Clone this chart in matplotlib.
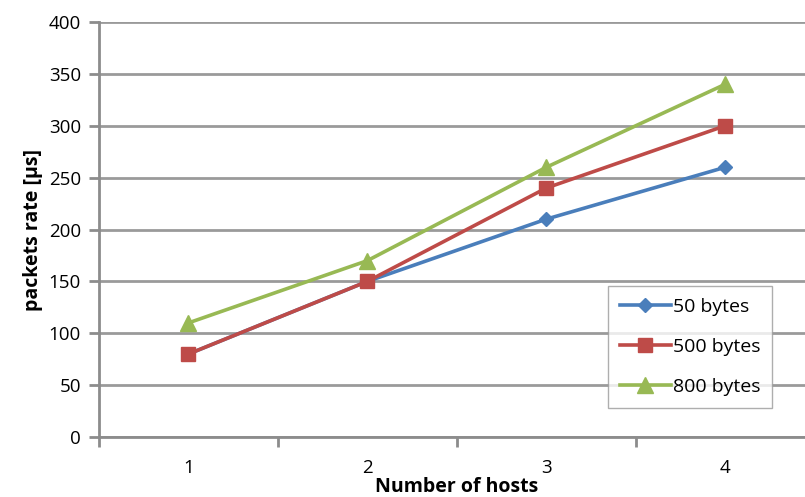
import matplotlib.pyplot as plt

# data
hosts = ["1", "2", "3", "4"]
bytes_50 = [80, 150, 210, 260]
bytes_500 = [80, 150, 240, 300]
bytes_800 = [110, 170, 260, 340]

series = [
    ("50 bytes", bytes_50, "#4A7EBB", "D", 7),
    ("500 bytes", bytes_500, "#BE4B48", "s", 10),
    ("800 bytes", bytes_800, "#98B954", "^", 11),
]

plt.rcParams["font.family"] = ["Open Sans", "DejaVu Sans"]

fig = plt.figure(figsize=(8.05, 4.97), dpi=100)
ax = fig.add_axes([0.123, 0.1207, 0.889, 0.835])

x = list(range(len(hosts)))
for name, vals, color, marker, ms in series:
    ax.plot(x, vals, color=color, lw=2.6, marker=marker, markersize=ms,
            label=name, zorder=3)

ax.set_xlim(-0.5, 3.5)
ax.set_ylim(0, 400)
ax.set_yticks(range(0, 401, 50))
ax.yaxis.grid(True, color="#9a9a9a", lw=2)
ax.set_axisbelow(True)

ax.set_xticks(x)
ax.set_xticklabels(hosts, fontsize=13.5)
ax.set_xticks([i - 0.5 for i in range(len(hosts) + 1)], minor=True)
ax.tick_params(axis="x", which="major", length=0, pad=16)
ax.tick_params(axis="x", which="minor", length=7, width=2, color="#8c8c8c",
               direction="out")
ax.tick_params(axis="y", length=7, width=2, color="#8c8c8c", labelsize=13.5,
               pad=6)

for side in ["top", "right"]:
    ax.spines[side].set_visible(False)
for side in ["left", "bottom"]:
    ax.spines[side].set_color("#8c8c8c")
    ax.spines[side].set_linewidth(2)

ax.set_xlabel("Number of hosts", fontsize=14, fontweight="bold", labelpad=0)
ax.set_ylabel("packets rate [µs]", fontsize=14, fontweight="bold", labelpad=4)

leg = ax.legend(loc="lower right", bbox_to_anchor=(0.94, 0.07), fontsize=14,
                frameon=True, fancybox=False, handlelength=2.6,
                handletextpad=0.1, labelspacing=1.15, borderpad=0.6,
                borderaxespad=0)
leg.get_frame().set_edgecolor("#9a9a9a")
leg.get_frame().set_linewidth(1)

fig.savefig("out.png", dpi=100)
